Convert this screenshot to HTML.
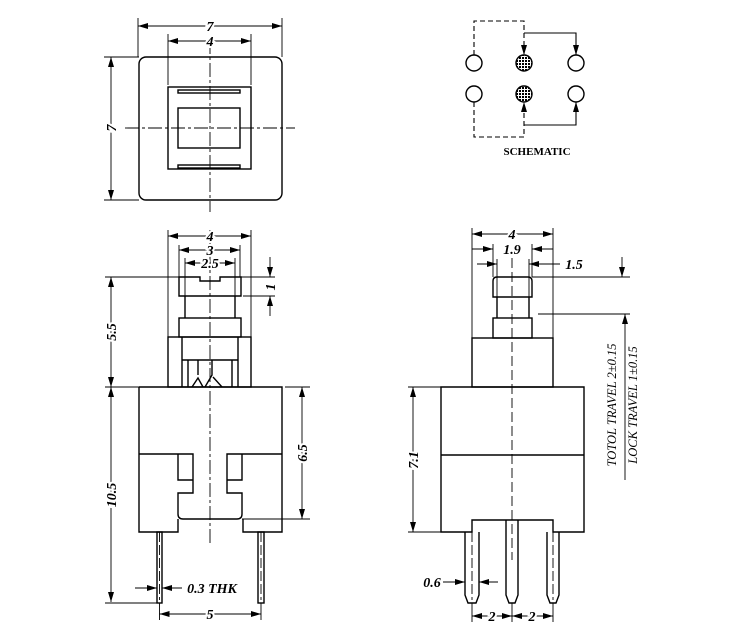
<!DOCTYPE html>
<html><head><style>body{margin:0;background:#fff}svg{display:block}</style></head><body>
<svg width="750" height="631" viewBox="0 0 750 631" xmlns="http://www.w3.org/2000/svg" font-family="Liberation Sans, sans-serif">
<defs>
<marker id="a" viewBox="0 0 10 6" refX="10" refY="3" markerWidth="10" markerHeight="6" orient="auto-start-reverse" markerUnits="userSpaceOnUse"><path d="M0,0L10,3L0,6z" fill="#000"/></marker>
<pattern id="h" width="3" height="3" patternUnits="userSpaceOnUse"><rect width="3" height="3" fill="#fff"/><rect width="2" height="2" fill="#000"/></pattern>
</defs>
<g stroke="#000" stroke-width="1.4" fill="none">
<rect x="139" y="57" width="143" height="143" rx="7"/>
<rect x="168" y="87" width="83" height="82"/>
<rect x="178" y="108" width="62" height="40"/>
<rect x="178" y="90" width="62" height="3"/>
<rect x="178" y="165" width="62" height="3"/>
<g stroke-width="0.9">
<line x1="210" y1="40" x2="210" y2="212" stroke-dasharray="14,3,3,3"/>
<line x1="125" y1="128" x2="295" y2="128" stroke-dasharray="14,3,3,3"/>
<line x1="138" y1="18" x2="138" y2="57"/><line x1="282" y1="18" x2="282" y2="57"/>
<line x1="168" y1="34" x2="168" y2="85"/><line x1="251" y1="34" x2="251" y2="85"/>
<line x1="138" y1="26" x2="282" y2="26" marker-start="url(#a)" marker-end="url(#a)"/>
<line x1="168" y1="41" x2="251" y2="41" marker-start="url(#a)" marker-end="url(#a)"/>
<line x1="104" y1="57" x2="139" y2="57"/><line x1="104" y1="200" x2="139" y2="200"/>
<line x1="111" y1="57" x2="111" y2="200" marker-start="url(#a)" marker-end="url(#a)"/>
</g>
<path d="M179,296 V277 H200 V281 H220 V277 H241 V296 Z"/>
<line x1="185" y1="296" x2="185" y2="318"/><line x1="235" y1="296" x2="235" y2="318"/>
<rect x="179" y="318" width="62" height="19"/>
<rect x="168" y="337" width="83" height="50"/>
<path d="M182,337 V387 M238,337 V387 M182,360 H238 M188,360 V387 M232,360 V387 M198,360 V375 M212,360 V375 L205,387 M192,387 L198,378 L203,387 M213,377 L222,387"/>
<path d="M139,387 H282 V532 H243 V519 M139,387 V532 H178 V519"/>
<path d="M139,454 H193 V493 H178 V514 Q178,519 183,519 H237 Q242,519 242,514 V493 H227 V454 H282"/>
<path d="M178,454 V480 H193 M242,454 V480 H227"/>
<rect x="157" y="532" width="5" height="71"/>
<rect x="258" y="532" width="6" height="71"/>
<g stroke-width="0.9">
<line x1="210" y1="230" x2="210" y2="545" stroke-dasharray="14,3,3,3"/>
<line x1="159.5" y1="532" x2="159.5" y2="600" stroke-dasharray="10,3"/>
<line x1="261" y1="532" x2="261" y2="600" stroke-dasharray="10,3"/>
<line x1="168" y1="230" x2="168" y2="337"/><line x1="251" y1="230" x2="251" y2="337"/>
<line x1="179" y1="245" x2="179" y2="277"/><line x1="240" y1="245" x2="240" y2="277"/>
<line x1="185" y1="258" x2="185" y2="296"/><line x1="235" y1="258" x2="235" y2="296"/>
<line x1="168" y1="236" x2="251" y2="236" marker-start="url(#a)" marker-end="url(#a)"/>
<line x1="179" y1="250" x2="240" y2="250" marker-start="url(#a)" marker-end="url(#a)"/>
<line x1="185" y1="263" x2="235" y2="263" marker-start="url(#a)" marker-end="url(#a)"/>
<line x1="105" y1="277" x2="179" y2="277"/><line x1="241" y1="277" x2="275" y2="277"/>
<line x1="243" y1="296" x2="275" y2="296"/>
<line x1="270" y1="257" x2="270" y2="277" marker-end="url(#a)"/>
<line x1="270" y1="316" x2="270" y2="296" marker-end="url(#a)"/>
<line x1="105" y1="387" x2="139" y2="387"/>
<line x1="111" y1="277" x2="111" y2="387" marker-start="url(#a)" marker-end="url(#a)"/>
<line x1="111" y1="387" x2="111" y2="602" marker-start="url(#a)" marker-end="url(#a)"/>
<line x1="105" y1="603" x2="157" y2="603"/>
<line x1="285" y1="387" x2="310" y2="387"/><line x1="242" y1="519" x2="310" y2="519"/>
<line x1="302" y1="387" x2="302" y2="519" marker-start="url(#a)" marker-end="url(#a)"/>
<line x1="135" y1="588" x2="157" y2="588" marker-end="url(#a)"/>
<line x1="182" y1="588" x2="162" y2="588" marker-end="url(#a)"/>
<line x1="159.5" y1="603" x2="159.5" y2="620"/><line x1="261" y1="603" x2="261" y2="620"/>
<line x1="159.5" y1="614" x2="261" y2="614" marker-start="url(#a)" marker-end="url(#a)"/>
</g>
<path d="M493,297 V281 Q493,277 497,277 H528 Q532,277 532,281 V297 Z"/>
<line x1="497" y1="297" x2="497" y2="318"/><line x1="529" y1="297" x2="529" y2="318"/>
<rect x="493" y="318" width="39" height="20"/>
<rect x="472" y="338" width="81" height="49"/>
<path d="M441,387 H584 V532 H553 V520 H472 V532 H441 Z"/>
<line x1="441" y1="455" x2="584" y2="455"/>
<path d="M465,532 V595 L468,603 H476 L479,595 V532"/>
<path d="M506,520 V595 L509,603 H515 L518,595 V520"/>
<path d="M547,532 V595 L550,603 H556 L559,595 V532"/>
<g stroke-width="0.9">
<line x1="512" y1="258" x2="512" y2="560" stroke-dasharray="10,4"/>
<line x1="472" y1="532" x2="472" y2="600" stroke-dasharray="10,3"/>
<line x1="553" y1="532" x2="553" y2="600" stroke-dasharray="10,3"/>
<line x1="472" y1="228" x2="472" y2="338"/><line x1="553" y1="228" x2="553" y2="338"/>
<line x1="493" y1="244" x2="493" y2="277"/><line x1="532" y1="244" x2="532" y2="277"/>
<line x1="497" y1="259" x2="497" y2="297"/><line x1="529" y1="259" x2="529" y2="297"/>
<line x1="472" y1="234" x2="553" y2="234" marker-start="url(#a)" marker-end="url(#a)"/>
<line x1="472" y1="249" x2="493" y2="249" marker-end="url(#a)"/>
<line x1="553" y1="249" x2="532" y2="249" marker-end="url(#a)"/>
<line x1="477" y1="264" x2="497" y2="264" marker-end="url(#a)"/>
<line x1="560" y1="264" x2="529" y2="264" marker-end="url(#a)"/>
<line x1="532" y1="277" x2="630" y2="277"/>
<line x1="538" y1="314" x2="630" y2="314"/>
<line x1="622" y1="257" x2="622" y2="277" marker-end="url(#a)"/>
<line x1="625" y1="480" x2="625" y2="314" marker-end="url(#a)"/>
<line x1="408" y1="387" x2="441" y2="387"/><line x1="408" y1="532" x2="441" y2="532"/>
<line x1="413" y1="387" x2="413" y2="532" marker-start="url(#a)" marker-end="url(#a)"/>
<line x1="443" y1="582" x2="465" y2="582" marker-end="url(#a)"/>
<line x1="498" y1="582" x2="479" y2="582" marker-end="url(#a)"/>
<line x1="472" y1="603" x2="472" y2="622"/><line x1="512" y1="603" x2="512" y2="622"/><line x1="553" y1="603" x2="553" y2="622"/>
<line x1="472" y1="616" x2="512" y2="616" marker-start="url(#a)" marker-end="url(#a)"/>
<line x1="512" y1="616" x2="553" y2="616" marker-start="url(#a)" marker-end="url(#a)"/>
</g>
<circle cx="474" cy="63" r="8"/><circle cx="576" cy="63" r="8"/>
<circle cx="474" cy="94" r="8"/><circle cx="576" cy="94" r="8"/>
<circle cx="524" cy="63" r="8" fill="url(#h)"/><circle cx="524" cy="94" r="8" fill="url(#h)"/>
<g stroke-width="1.1">
<path d="M474,55 V21 H524 V55" stroke-dasharray="5,3" marker-end="url(#a)"/>
<path d="M474,102 V137 H524 V102" stroke-dasharray="5,3" marker-end="url(#a)"/>
<path d="M524,33 H576 V55" marker-end="url(#a)"/>
<path d="M524,125 H576 V102" marker-end="url(#a)"/>
</g>
</g>
<g font-family="Liberation Serif, serif" font-weight="bold" font-style="italic" font-size="14" text-anchor="middle" stroke="#fff" stroke-width="4" paint-order="stroke">
<text x="210" y="31">7</text>
<text x="210" y="46">4</text>
<text transform="translate(116,128) rotate(-90)">7</text>
<text x="210" y="241">4</text>
<text x="210" y="255">3</text>
<text x="210" y="268">2.5</text>
<text transform="translate(275,287) rotate(-90)" stroke="none">1</text>
<text transform="translate(116,332) rotate(-90)">5.5</text>
<text transform="translate(116,495) rotate(-90)">10.5</text>
<text transform="translate(307,453) rotate(-90)">6.5</text>
<text x="212" y="593" stroke="none">0.3  THK</text>
<text x="210" y="619">5</text>
<text x="512" y="239">4</text>
<text x="512" y="254">1.9</text>
<text x="574" y="269" stroke="none">1.5</text>
<text transform="translate(418,460) rotate(-90)">7.1</text>
<text x="432" y="587" stroke="none">0.6</text>
<text x="492" y="621">2</text>
<text x="532" y="621">2</text>
</g>
<g font-family="Liberation Serif, serif" font-style="italic" font-size="12.5" text-anchor="middle">
<text transform="translate(616,405) rotate(-90)">TOTOL  TRAVEL  2±0.15</text>
<text transform="translate(637,405) rotate(-90)">LOCK  TRAVEL  1±0.15</text>
</g>
<text x="537" y="155" font-family="Liberation Serif, serif" font-weight="bold" font-size="11" text-anchor="middle">SCHEMATIC</text>
</svg>
</body></html>
